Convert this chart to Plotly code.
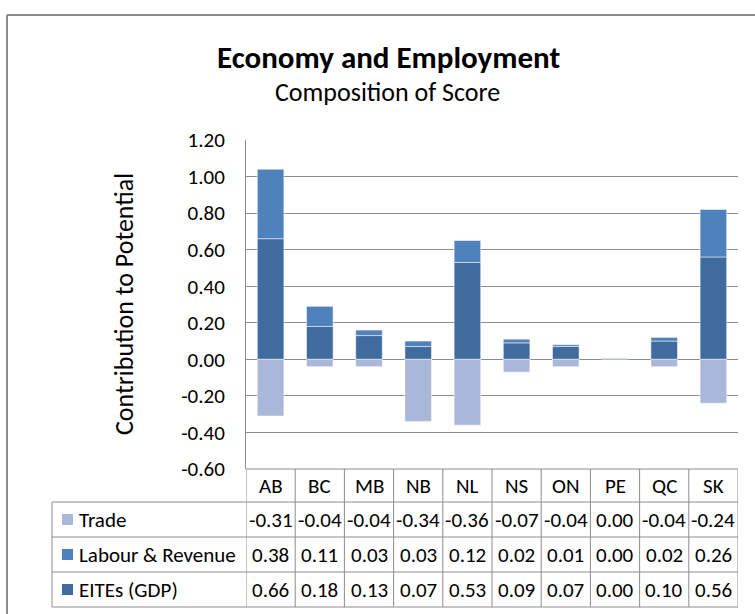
import plotly.graph_objects as go

categories = ["AB", "BC", "MB", "NB", "NL", "NS", "ON", "PE", "QC", "SK"]
trade = [-0.31, -0.04, -0.04, -0.34, -0.36, -0.07, -0.04, 0.00, -0.04, -0.24]
labour_revenue = [0.38, 0.11, 0.03, 0.03, 0.12, 0.02, 0.01, 0.004, 0.02, 0.26]
eites_gdp = [0.66, 0.18, 0.13, 0.07, 0.53, 0.09, 0.07, 0.004, 0.10, 0.56]

y_tick_values = [-0.6, -0.4, -0.2, 0.0, 0.2, 0.4, 0.6, 0.8, 1.0, 1.2]
y_tick_labels = ["-0.60", "-0.40", "-0.20", "0.00", "0.20", "0.40", "0.60", "0.80", "1.00", "1.20"]

series_names = ["Trade", "Labour & Revenue", "EITEs (GDP)"]
series_values = [trade, labour_revenue, eites_gdp]
series_colors = ["#A9B8D8", "#4F81BD", "#406B9E"]

W, H = 755, 614
FONT = "Carlito, 'Liberation Sans Narrow', 'Open Sans', sans-serif"
GRID = "#8C8C8C"

# pixel layout helpers
px_left, px_right = 246, 738
px_top, px_bottom = 140, 469
def fx(px):
    return px / W
def fy(py):
    return 1 - py / H

xidx = list(range(len(categories)))

fig = go.Figure()
for name, vals, col in [("EITEs (GDP)", eites_gdp, series_colors[2]),
                        ("Labour & Revenue", labour_revenue, series_colors[1]),
                        ("Trade", trade, series_colors[0])]:
    fig.add_trace(go.Bar(x=xidx, y=vals, name=name,
                         marker=dict(color=col, line=dict(color="rgba(255,255,255,0.5)", width=1)),
                         width=0.54, showlegend=False))

fig.update_layout(
    template="none",
    width=W, height=H, barmode="relative",
    margin=dict(l=0, r=0, t=0, b=0, pad=0, autoexpand=False),
    paper_bgcolor="white", plot_bgcolor="white",
    font=dict(family=FONT, color="#000000"),
    xaxis=dict(domain=[fx(px_left), fx(px_right)], range=[-0.5, len(categories) - 0.5],
               showticklabels=False, showgrid=False, zeroline=False, showline=False, automargin=False),
    yaxis=dict(domain=[fy(px_bottom), fy(px_top)], range=[-0.6, 1.2],
               tickmode="array", tickvals=y_tick_values, ticktext=y_tick_labels,
               showgrid=True, gridcolor=GRID, gridwidth=1,
               zeroline=True, zerolinecolor=GRID, zerolinewidth=1,
               showline=True, linecolor=GRID, linewidth=1, automargin=False,
               tickfont=dict(size=21, family=FONT), ticks="", ticklabelstandoff=16),
)

shapes = []
annotations = []

# outer chart frame
shapes.append(dict(type="line", xref="paper", yref="paper", x0=fx(7), x1=fx(760), y0=fy(15), y1=fy(15),
                   line=dict(color="#8A8A8A", width=2)))
shapes.append(dict(type="line", xref="paper", yref="paper", x0=fx(7), x1=fx(7), y0=fy(15), y1=fy(620),
                   line=dict(color="#8A8A8A", width=2)))

# titles
annotations.append(dict(text="<b>Economy and Employment</b>", xref="paper", yref="paper", x=fx(388), y=fy(57),
                        showarrow=False, font=dict(size=31, family=FONT), xanchor="center", yanchor="middle"))
annotations.append(dict(text="Composition of Score", xref="paper", yref="paper", x=fx(387), y=fy(92),
                        showarrow=False, font=dict(size=26, family=FONT), xanchor="center", yanchor="middle"))
annotations.append(dict(text="Contribution to Potential", xref="paper", yref="paper", x=fx(124), y=fy(304),
                        showarrow=False, textangle=-90, font=dict(size=26, family=FONT),
                        xanchor="center", yanchor="middle"))

# data table
row_edges = [469, 502, 537, 572, 607]
table_left = 52
line = dict(color=GRID, width=1)
shapes.append(dict(type="line", xref="paper", yref="paper", x0=fx(px_left), x1=fx(px_right),
                   y0=fy(row_edges[0]), y1=fy(row_edges[0]), line=line))
for r in row_edges[1:]:
    shapes.append(dict(type="line", xref="paper", yref="paper", x0=fx(table_left), x1=fx(px_right),
                       y0=fy(r), y1=fy(r), line=line))
shapes.append(dict(type="line", xref="paper", yref="paper", x0=fx(table_left), x1=fx(table_left),
                   y0=fy(row_edges[1]), y1=fy(row_edges[-1]), line=line))
for k in range(len(categories) + 1):
    shapes.append(dict(type="line", xref="x", yref="paper", x0=k - 0.5, x1=k - 0.5,
                       y0=fy(row_edges[0]), y1=fy(row_edges[-1]), line=line))

TF = 21
for i, c in enumerate(categories):
    annotations.append(dict(text=c, xref="x", yref="paper", x=i, y=fy((row_edges[0] + row_edges[1]) / 2),
                            showarrow=False, font=dict(size=TF, family=FONT), xanchor="center", yanchor="middle"))

for ri, (name, vals, col) in enumerate(zip(series_names, series_values, series_colors)):
    top, bot = row_edges[ri + 1], row_edges[ri + 2]
    mid = (top + bot) / 2
    shapes.append(dict(type="rect", xref="paper", yref="paper", x0=fx(62), x1=fx(73),
                       y0=fy(mid + 5.5), y1=fy(mid - 5.5), fillcolor=col, line=dict(width=0)))
    annotations.append(dict(text=name, xref="paper", yref="paper", x=fx(77), y=fy(mid),
                            showarrow=False, font=dict(size=TF, family=FONT), xanchor="left", yanchor="middle"))
    for i, v in enumerate(vals):
        annotations.append(dict(text=f"{v:.2f}", xref="x", yref="paper", x=i, y=fy(mid),
                                showarrow=False, font=dict(size=TF, family=FONT),
                                xanchor="center", yanchor="middle"))

fig.update_layout(shapes=shapes, annotations=annotations)
fig.write_html("out.html")
